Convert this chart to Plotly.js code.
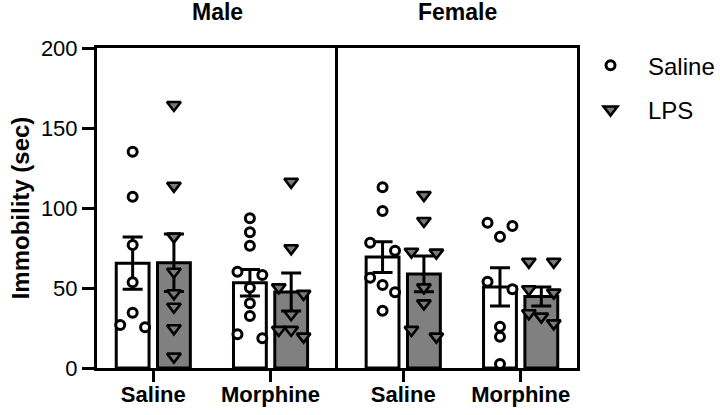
<!DOCTYPE html>
<html>
<head>
<meta charset="utf-8">
<script src="https://cdn.plot.ly/plotly-3.0.1.min.js"></script>
<style>html,body{margin:0;padding:0;background:#fff;}#chart{width:720px;height:415px;}</style>
</head>
<body>
<div id="chart"></div>
<script>
// ---- data ----
const panels = ['Male', 'Female'];
const categories = ['Saline', 'Morphine'];
const treatments = ['Saline', 'LPS'];

// individual animals
const maleSaline_Saline = [135.2, 107.1, 76.9, 53.6, 34.6, 26.9, 25.4];
const maleSaline_LPS = [164.4, 113.9, 82.1, 60.2, 46.7, 38.3, 24.8, 7.1];
const maleMorphine_Saline = [93.6, 84.8, 76.4, 60.2, 58.1, 50.2, 40.4, 32.5, 21.1, 18.6];
const maleMorphine_LPS = [116.4, 74.8, 50.4, 46.3, 33.6, 23.8, 23.8, 19.6];
const femaleSaline_Saline = [112.9, 98.1, 78.3, 73.3, 56.4, 51.9, 47.3, 35.8];
const femaleSaline_LPS = [108.1, 91.9, 72.7, 72.1, 50.4, 40.4, 23.8, 19.6];
const femaleMorphine_Saline = [90.8, 88.8, 82.1, 53.9, 49.2, 25.8, 19.6, 2.5];
const femaleMorphine_LPS = [66.4, 66.4, 49.2, 47.1, 34.2, 32.1, 27.9];

// group means and SEM (per category: Saline, Morphine)
const maleMean_Saline = [65.5, 53.3];
const maleMean_LPS = [65.8, 47.5];
const maleSEM_Saline = [16.3, 8.3];
const maleSEM_LPS = [18.0, 11.9];
const femaleMean_Saline = [69.3, 50.7];
const femaleMean_LPS = [58.8, 44.7];
const femaleSEM_Saline = [9.6, 12.0];
const femaleSEM_LPS = [11.2, 6.0];

// ---- styling / layout constants ----
const FONT = 'Liberation Sans, Arial, Helvetica, sans-serif';
const BARGAP = 0.296, BARGROUPGAP = 0.205;
const Y_RANGE = [0, 200];
const PLOT_H = 415 - 48 - 47;
const PX_PER_UNIT = PLOT_H / (Y_RANGE[1] - Y_RANGE[0]);
const JITTER_STEP = 0.106;       // horizontal spread step (x units)
const ROW_THRESHOLD_PX = 8.8;    // points closer than this vertically are spread

function spreadOffsets(vals) {
  // deterministic beeswarm-like spread: group close values into rows
  const idx = vals.map((v, i) => i).sort((a, b) => vals[b] - vals[a]);
  const off = new Array(vals.length).fill(0);
  let row = [];
  const flush = () => {
    const n = row.length;
    const s = n === 2 ? 2 * JITTER_STEP : JITTER_STEP;
    row.forEach((k, j) => { off[k] = (j - (n - 1) / 2) * s; });
    row = [];
  };
  idx.forEach(k => {
    if (row.length && (vals[row[row.length - 1]] - vals[k]) * PX_PER_UNIT >= ROW_THRESHOLD_PX) flush();
    row.push(k);
  });
  flush();
  return off;
}

const groups = {
  Male: {
    Saline: {pts: [maleSaline_Saline, maleMorphine_Saline], mean: maleMean_Saline, sem: maleSEM_Saline},
    LPS: {pts: [maleSaline_LPS, maleMorphine_LPS], mean: maleMean_LPS, sem: maleSEM_LPS}
  },
  Female: {
    Saline: {pts: [femaleSaline_Saline, femaleMorphine_Saline], mean: femaleMean_Saline, sem: femaleSEM_Saline},
    LPS: {pts: [femaleSaline_LPS, femaleMorphine_LPS], mean: femaleMean_LPS, sem: femaleSEM_LPS}
  }
};

const style = {
  Saline: {fill: '#ffffff', symbol: 'circle', msize: 9, mfill: '#ffffff', mline: 3},
  LPS: {fill: '#808080', symbol: 'triangle-down', msize: 12, mfill: '#7a7a7a', mline: 2.6}
};

const catPos = categories.map((c, i) => i);
const traces = [];
const scatterTraces = [];
panels.forEach((panel, pi) => {
  const xa = pi === 0 ? 'x' : 'x2';
  const ya = pi === 0 ? 'y' : 'y2';
  treatments.forEach((tr, ti) => {
    const g = groups[panel][tr];
    const st = style[tr];
    traces.push({
      type: 'bar', x: catPos, y: g.mean, xaxis: xa, yaxis: ya,
      marker: {color: st.fill, line: {color: '#000', width: 3}},
      error_y: {type: 'data', array: g.sem, visible: true, color: '#000', thickness: 3, width: 10},
      showlegend: false, hoverinfo: 'skip'
    });
    const barShift = (ti === 0 ? -1 : 1) * (1 - BARGAP) / 4;
    const xs = [], ys = [];
    g.pts.forEach((vals, ci) => {
      const off = spreadOffsets(vals);
      vals.forEach((v, k) => { xs.push(catPos[ci] + barShift + off[k]); ys.push(v); });
    });
    scatterTraces.push({
      type: 'scatter', mode: 'markers', x: xs, y: ys, xaxis: xa, yaxis: ya,
      name: tr, legendgroup: tr, showlegend: pi === 0, cliponaxis: false,
      marker: {symbol: st.symbol, size: st.msize, color: st.mfill, line: {color: '#000', width: st.mline}}
    });
  });
});

const baseX = {
  tickvals: catPos, ticktext: categories, ticks: 'outside', ticklen: 11, tickwidth: 3, tickcolor: '#000',
  ticklabelstandoff: -6,
  showline: true, linewidth: 3, linecolor: '#000', mirror: true, showgrid: false, zeroline: false,
  tickfont: {family: FONT, size: 22, color: '#000', weight: 'bold'}, fixedrange: true
};

const layout = {
  width: 720, height: 415,
  margin: {l: 97, r: 143, t: 48, b: 47, autoexpand: false},
  paper_bgcolor: '#fff', plot_bgcolor: '#fff',
  font: {family: FONT, color: '#000'},
  barmode: 'group', bargap: BARGAP, bargroupgap: BARGROUPGAP,
  xaxis: Object.assign({}, baseX, {domain: [0, 0.502], range: [-0.48, 1.575], anchor: 'y'}),
  xaxis2: Object.assign({}, baseX, {domain: [0.502, 1], range: [-0.556, 1.48], anchor: 'y2'}),
  yaxis: {
    range: Y_RANGE, dtick: 50, tick0: 0, ticks: 'outside', ticklen: 12, tickwidth: 3, tickcolor: '#000',
    showline: true, linewidth: 3, linecolor: '#000', mirror: false, showgrid: false, zeroline: false,
    tickfont: {family: FONT, size: 22, color: '#000'}, anchor: 'x',
    title: {text: 'Immobility (sec)', font: {family: FONT, size: 24, color: '#000', weight: 'bold'}, standoff: 5}
  },
  yaxis2: {
    range: Y_RANGE, matches: 'y', anchor: 'x2', showline: true, linewidth: 3, linecolor: '#000', mirror: true,
    showticklabels: false, ticks: '', showgrid: false, zeroline: false
  },
  legend: {
    x: 0.9917, xanchor: 'left', y: 1.015, yanchor: 'top', tracegroupgap: 10, itemwidth: 65,
    font: {family: FONT, size: 24, color: '#000'}, bgcolor: 'rgba(0,0,0,0)'
  },
  annotations: panels.map((p, pi) => ({
    text: p, xref: (pi === 0 ? 'x' : 'x2') + ' domain', x: 0.5, yref: 'paper', y: 1 + 36.5 / PLOT_H,
    xanchor: 'center', yanchor: 'middle', showarrow: false,
    font: {family: FONT, size: 23, color: '#000', weight: 'bold'}
  }))
};

Plotly.newPlot('chart', traces.concat(scatterTraces), layout, {displayModeBar: false, staticPlot: true});
</script>
</body>
</html>
